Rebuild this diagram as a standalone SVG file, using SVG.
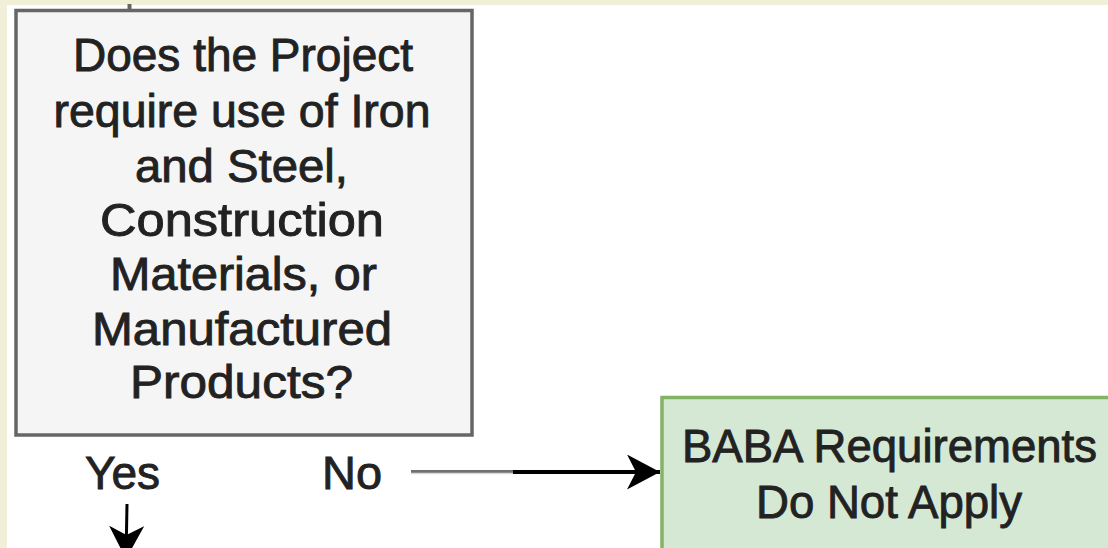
<svg xmlns="http://www.w3.org/2000/svg" width="1108" height="548" viewBox="0 0 1108 548">
  <style>
    .label { font-family: "Liberation Sans", Arial, sans-serif; font-size: 46px; fill: #222222; stroke: #222222; stroke-width: 0.9; text-anchor: middle; }
    .decision { fill: #f5f5f5; stroke: #666666; stroke-width: 3.5; }
    .terminal { fill: #d5e8d4; stroke: #82b366; stroke-width: 3.5; }
    .edge { stroke: #000000; fill: none; }
  </style>
  <defs>
    <marker id="arrow" viewBox="0 0 33 35" refX="33" refY="17.5" markerWidth="33" markerHeight="35" markerUnits="userSpaceOnUse" orient="auto">
      <path d="M0,0 L33,17.5 L0,35 L9,17.5 Z" fill="#000000"/>
    </marker>
  </defs>

  <!-- page background with beige margin -->
  <rect x="0" y="0" width="1108" height="548" fill="#ffffff"/>
  <rect x="0" y="0" width="1108" height="5" fill="#f2efd8"/>
  <rect x="0" y="0" width="7" height="548" fill="#f2efd8"/>

  <g id="connectors">
    <!-- incoming stub above the decision -->
    <line x1="129.5" y1="4" x2="129.5" y2="10" stroke="#666666" stroke-width="4"/>
    <!-- No branch -->
    <line x1="411" y1="471.5" x2="513" y2="471.5" stroke="#707070" stroke-width="3"/>
    <line x1="411" y1="473.5" x2="513" y2="473.5" stroke="#dadada" stroke-width="1.5"/>
    <line class="edge" x1="513" y1="472" x2="660" y2="472" stroke-width="4" marker-end="url(#arrow)"/>
    <!-- Yes branch -->
    <line class="edge" x1="127" y1="504" x2="126" y2="559" stroke-width="3" marker-end="url(#arrow)"/>
  </g>

  <g id="decision-node">
    <rect class="decision" x="16" y="10.5" width="456" height="424.5"/>
    <text class="label" x="243" y="71" textLength="340" lengthAdjust="spacingAndGlyphs">Does the Project</text>
    <text class="label" x="242" y="127" textLength="377" lengthAdjust="spacingAndGlyphs">require use of Iron</text>
    <text class="label" x="241.5" y="182" textLength="213" lengthAdjust="spacingAndGlyphs">and Steel,</text>
    <text class="label" x="242" y="236" textLength="284" lengthAdjust="spacingAndGlyphs">Construction</text>
    <text class="label" x="243.5" y="290" textLength="267" lengthAdjust="spacingAndGlyphs">Materials, or</text>
    <text class="label" x="242" y="345" textLength="300" lengthAdjust="spacingAndGlyphs">Manufactured</text>
    <text class="label" x="241.5" y="398" textLength="223" lengthAdjust="spacingAndGlyphs">Products?</text>
  </g>

  <g id="edge-labels">
    <text class="label" x="122.5" y="489" textLength="75" lengthAdjust="spacingAndGlyphs">Yes</text>
    <text class="label" x="352" y="489" textLength="60" lengthAdjust="spacingAndGlyphs">No</text>
  </g>

  <g id="not-apply-node">
    <rect class="terminal" x="662" y="397.5" width="470" height="180"/>
    <text class="label" x="889.5" y="462" textLength="415" lengthAdjust="spacingAndGlyphs">BABA Requirements</text>
    <text class="label" x="889" y="518" textLength="266" lengthAdjust="spacingAndGlyphs">Do Not Apply</text>
  </g>
</svg>
